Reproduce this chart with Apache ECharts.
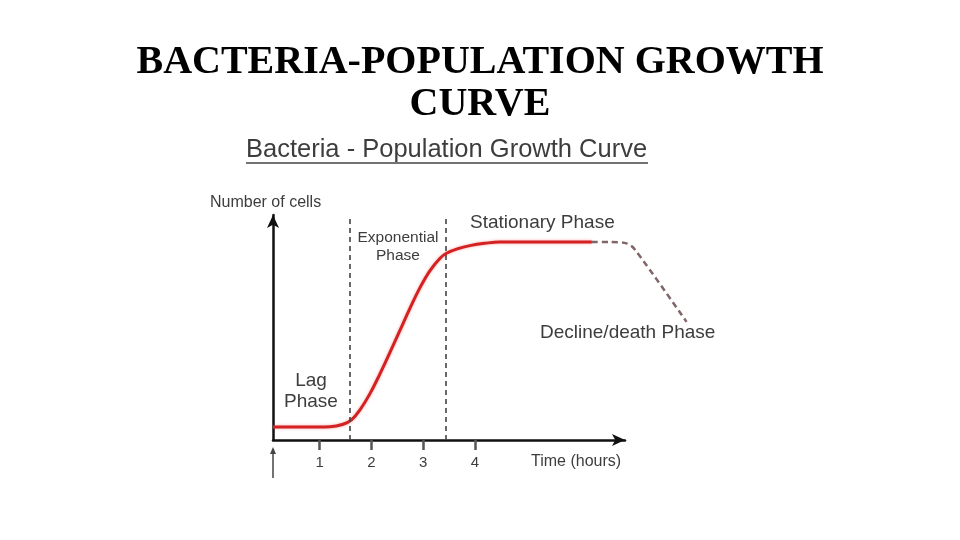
<!DOCTYPE html>
<html>
<head>
<meta charset="utf-8">
<script src="https://cdn.jsdelivr.net/npm/echarts@6/dist/echarts.min.js"></script>
<style>html,body{margin:0;padding:0;background:#fff;}#c{width:960px;height:540px;}</style>
</head>
<body>
<div id="c"></div>
<script>
// Data (time in hours, number of cells in relative units 0-100)
const growthTime  = [0.1, 0.62, 0.97, 1.2, 1.455, 1.617, 1.777, 1.971, 2.164, 2.357, 2.55, 2.743, 2.937, 3.13, 3.323, 3.452, 3.709, 3.903, 4.19, 4.48, 6.26];
const growthCells = [5.8, 5.8, 5.8, 5.9, 7.0, 8.9, 13.3, 20.5, 29.3, 38.8, 48.6, 58.4, 67.6, 75.2, 80.7, 83.0, 85.3, 86.4, 87.4, 88.0, 88.0];
const declineTime  = [6.26, 6.6, 6.93, 7.09, 8.09];
const declineCells = [88.0, 88.0, 87.4, 84.7, 52.5];
const phaseBoundaries = [1.59, 3.43];
const tickValues = [1, 2, 3, 4];

const zip = (a, b) => a.map((v, i) => [v, b[i]]);
const txt = '#3d3d3d';
const sans = 'Liberation Sans, Arial, sans-serif';
const serif = 'Liberation Serif, Times New Roman, serif';

const chart = echarts.init(document.getElementById('c'));
chart.setOption({
  backgroundColor: '#fff',
  animation: false,
  grid: [
    { left: 273, right: 335, top: 215, bottom: 100 },
    { left: 273, right: 260, top: 215, bottom: 100 }
  ],
  xAxis: [
    {
      gridIndex: 0, type: 'value', min: 0.1, max: 6.9,
      splitLine: { show: false },
      axisLine: { show: true, symbol: ['none', 'arrow'], symbolSize: [9, 13], lineStyle: { color: '#111', width: 2.5 } },
      axisTick: { show: true, customValues: tickValues, length: 10, lineStyle: { color: '#555', width: 2.5 } },
      axisLabel: { show: true, customValues: tickValues, margin: 15, fontFamily: sans, fontSize: 15, color: txt }
    },
    {
      gridIndex: 1, type: 'value', min: 0.1, max: 8.35, show: false
    }
  ],
  yAxis: [
    {
      gridIndex: 0, type: 'value', min: 0, max: 100,
      splitLine: { show: false },
      axisLine: { show: true, symbol: ['none', 'arrow'], symbolSize: [9, 13], lineStyle: { color: '#111', width: 2.5 } },
      axisTick: { show: false },
      axisLabel: { show: false }
    },
    { gridIndex: 1, type: 'value', min: 0, max: 100, show: false }
  ],
  series: [
    {
      type: 'line', xAxisIndex: 0, yAxisIndex: 0,
      data: zip(growthTime, growthCells), smooth: 0.4, showSymbol: false,
      lineStyle: { color: '#d42222', width: 3, shadowColor: 'rgba(230,60,60,0.45)', shadowBlur: 3 },
      markLine: {
        silent: true, symbol: 'none', label: { show: false },
        lineStyle: { type: [5, 4], color: '#444', width: 1.6 },
        data: phaseBoundaries.map(v => ({ xAxis: v }))
      }
    },
    {
      type: 'line', xAxisIndex: 1, yAxisIndex: 1,
      data: zip(declineTime, declineCells), smooth: 0.3, showSymbol: false,
      lineStyle: { color: '#806666', width: 2.5, type: [6, 4] }
    }
  ],
  graphic: [
    { type: 'text', x: 480, y: 84, style: { text: 'BACTERIA-POPULATION GROWTH\nCURVE', font: 'bold 40px ' + serif, fill: '#000', align: 'center', verticalAlign: 'middle', lineHeight: 42 } },
    { type: 'text', x: 246, y: 150, style: { text: 'Bacteria - Population Growth Curve', font: '25.5px ' + sans, fill: txt, verticalAlign: 'middle' } },
    { type: 'line', shape: { x1: 246, y1: 163, x2: 648, y2: 163 }, style: { stroke: '#444', lineWidth: 1.5 } },
    { type: 'text', x: 210, y: 203, style: { text: 'Number of cells', font: '16px ' + sans, fill: txt, verticalAlign: 'middle' } },
    { type: 'text', x: 531, y: 462, style: { text: 'Time (hours)', font: '16px ' + sans, fill: txt, verticalAlign: 'middle' } },
    { type: 'text', x: 470, y: 223, style: { text: 'Stationary Phase', font: '19px ' + sans, fill: txt, verticalAlign: 'middle' } },
    { type: 'text', x: 398, y: 247, style: { text: 'Exponential\nPhase', font: '15.5px ' + sans, fill: txt, align: 'center', verticalAlign: 'middle', lineHeight: 18 } },
    { type: 'text', x: 311, y: 391, style: { text: 'Lag\nPhase', font: '19px ' + sans, fill: txt, align: 'center', verticalAlign: 'middle', lineHeight: 21 } },
    { type: 'text', x: 540, y: 333, style: { text: 'Decline/death Phase', font: '19px ' + sans, fill: txt, verticalAlign: 'middle' } },
    { type: 'line', shape: { x1: 273, y1: 452, x2: 273, y2: 478 }, style: { stroke: '#444', lineWidth: 1.5 } },
    { type: 'polygon', shape: { points: [[270, 454], [276, 454], [273, 447]] }, style: { fill: '#444' } }
  ]
});
</script>
</body>
</html>
